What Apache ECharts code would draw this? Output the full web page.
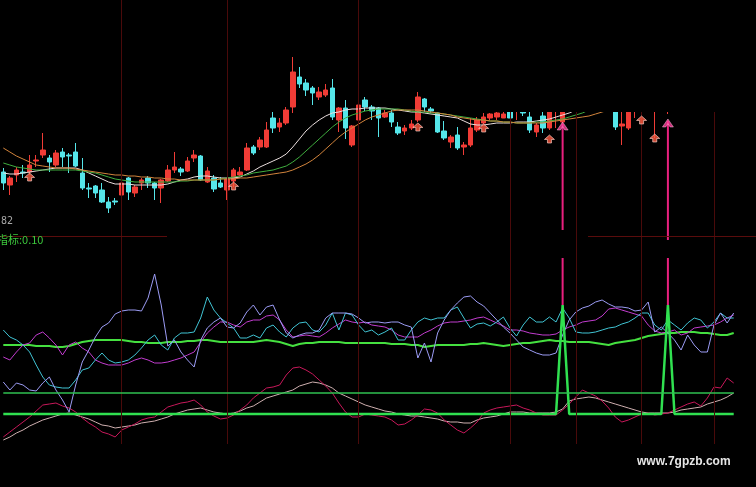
<!DOCTYPE html>
<html><head><meta charset="utf-8">
<script src="https://cdn.jsdelivr.net/npm/echarts/dist/echarts.min.js"></script>
<style>html,body{margin:0;padding:0;background:#000;}#c{width:756px;height:487px;}</style>
</head><body><div id="c"></div><script>
const categories = Array.from({length: 112}, (_, i) => 'D' + (i + 1));
// candles: [open, close, low, high]
const candles = [
[12.8,11.7,11.0,13.2],[11.5,12.2,10.5,12.4],[12.5,13.0,11.8,13.3],[12.8,12.7,12.2,13.5],[12.8,13.5,12.5,14.5],
[13.9,14.0,13.3,14.5],[14.5,15.0,14.2,16.7],[14.2,13.8,12.8,14.5],[13.5,14.7,13.3,15.0],[14.8,14.3,13.3,15.2],
[14.5,14.4,12.7,14.7],[14.8,13.4,13.3,15.7],[12.7,11.2,11.0,14.2],[11.2,11.1,10.2,11.7],[11.4,10.7,10.2,11.5],
[11.0,9.8,9.7,11.7],[9.8,9.2,8.7,10.3],[9.9,9.8,9.5,10.2],[10.5,11.7,10.3,11.8],[12.2,10.8,10.0,12.3],
[10.7,11.3,10.3,11.5],[11.7,12.0,11.0,12.2],[12.2,11.7,11.2,12.4],[11.7,11.2,10.0,11.8],[11.2,12.0,9.7,12.1],
[11.9,13.0,11.8,13.5],[13.0,13.3,12.7,14.8],[13.1,12.8,12.4,13.3],[12.9,13.9,12.8,14.3],[14.2,14.5,13.8,15.0],
[14.4,12.0,11.9,14.5],[11.8,12.9,11.7,13.3],[12.2,11.1,10.8,12.5],[11.7,11.3,11.2,12.3],[11.0,12.1,10.0,12.2],
[11.9,13.0,11.3,13.2],[12.5,12.8,12.4,13.3],[13.0,15.2,12.9,15.7],[15.3,14.7,14.5,15.5],[15.3,16.0,15.0,16.3],
[15.3,17.0,15.2,17.8],[18.2,17.2,16.7,18.8],[17.3,17.7,16.8,18.2],[17.7,19.0,17.5,19.3],[19.3,22.8,18.7,24.3],
[22.3,21.6,21.2,23.3],[21.7,21.0,20.4,22.1],[21.2,20.7,19.5,21.4],[20.3,20.8,20.0,21.3],[20.5,21.0,20.3,21.6],
[21.2,18.3,18.0,22.1],[18.0,19.2,16.8,19.3],[19.2,17.2,16.1,20.0],[15.5,17.4,15.3,17.5],[18.0,19.5,17.0,20.5],
[20.0,19.3,18.9,20.3],[19.3,18.9,18.0,19.5],[19.2,18.2,16.3,19.3],[18.3,18.7,18.2,19.0],[18.7,17.8,17.3,19.0],
[17.3,16.7,16.5,17.8],[16.9,17.2,16.5,17.5],[17.2,17.6,17.0,18.0],[18.0,20.3,17.8,20.8],[20.1,19.3,18.8,20.2],
[19.1,18.9,18.7,19.3],[18.7,16.8,16.7,18.75],[16.9,16.2,16.0,17.9],[15.8,16.3,15.2,16.5],[16.5,15.2,15.0,17.3],
[15.3,15.5,14.5,15.8],[15.5,17.2,15.3,18.2],[17.0,18.0,16.8,18.3],[17.7,18.3,17.6,18.7],[18.2,18.6,18.0,18.7],
[18.3,18.7,18.0,19.0],[18.2,18.6,18.2,19.2],[19.0,18.2,18.2,19.2],[19.0,19.6,18.0,19.8],[19.2,18.7,18.4,19.5],
[18.3,17.0,16.7,19.2],[16.8,17.5,16.3,17.7],[18.4,17.2,16.7,19.2],[17.2,19.0,17.0,19.4],[19.0,19.5,17.2,19.7],
[17.8,19.2,17.6,19.6],[19.3,20.0,19.0,20.3],[20.0,20.8,19.8,21.0],[20.8,20.4,20.1,21.2],[20.4,21.0,20.2,21.3],
[21.0,20.6,20.3,21.4],[20.6,20.2,19.9,20.9],[20.2,19.8,19.4,20.4],[19.6,17.3,17.0,19.9],[17.4,17.6,15.5,19.2],
[17.2,20.0,17.0,20.5],[19.0,19.5,18.2,20.0],[19.0,19.4,18.5,19.7],[19.5,20.0,19.2,20.2],[19.4,20.0,16.2,20.2],
[20.0,20.6,19.5,20.8],[19.1,19.4,18.6,19.6],[20.0,20.5,19.6,20.8],[20.5,21.0,20.2,21.3],[21.0,20.7,20.4,21.4],
[20.7,21.2,20.3,21.5],[21.2,21.8,20.9,22.0],[21.8,21.5,21.2,22.1],[21.5,22.0,21.3,22.4],[22.0,22.6,21.8,22.9],
[22.6,22.3,22.0,23.0],[22.3,22.9,22.1,23.2]
];
const maWhite = [12.7,12.6,12.6,12.7,12.8,12.9,13.0,13.1,13.2,13.2,13.2,13.2,13.0,12.7,12.4,12.1,11.8,11.6,11.6,11.6,11.5,11.5,11.5,11.5,11.5,11.6,11.8,12.0,12.1,12.3,12.4,12.4,12.3,12.2,12.2,12.2,12.3,12.6,12.9,13.3,13.6,13.9,14.2,14.6,15.3,16.1,16.9,17.5,18.0,18.4,18.7,18.8,19.0,19.1,19.1,19.2,19.2,19.2,19.2,19.1,19.0,18.9,18.8,18.8,18.7,18.6,18.5,18.4,18.3,18.2,17.9,17.6,17.5,17.5,17.6,17.7,17.7,17.7,17.8,17.8,17.8,17.9,18.0,18.1,18.3,18.5,18.7,19.0,19.3,19.6,19.9,20.1,20.3,20.4,20.5,20.5,20.6,20.6,20.7,20.7,20.8,20.8,20.9,21.0,21.1,21.2,21.3,21.4,21.6,21.8,22.0,22.2];
const maGreen = [13.7,13.5,13.3,13.2,13.1,13.0,13.0,13.0,13.0,13.0,13.0,13.0,12.9,12.8,12.7,12.5,12.3,12.1,12.0,11.9,11.8,11.8,11.8,11.8,11.8,11.8,11.8,11.9,11.9,12.0,12.0,12.0,12.0,12.1,12.2,12.3,12.4,12.5,12.7,12.8,12.9,13.0,13.2,13.4,13.8,14.3,14.9,15.5,16.1,16.7,17.3,17.8,18.2,18.5,18.7,18.9,19.0,19.1,19.1,19.1,19.1,19.0,18.9,18.8,18.8,18.7,18.7,18.6,18.5,18.4,18.3,18.2,18.1,18.0,17.9,17.9,17.8,17.8,17.7,17.7,17.7,17.8,17.8,17.9,18.0,18.1,18.3,18.5,18.7,19.0,19.3,19.5,19.7,19.9,20.0,20.1,20.2,20.3,20.4,20.4,20.5,20.5,20.6,20.7,20.8,20.9,21.0,21.1,21.2,21.3,21.4,21.5];
const maOrange = [15.2,14.8,14.4,14.1,13.8,13.5,13.4,13.3,13.2,13.2,13.2,13.1,13.0,12.9,12.8,12.7,12.6,12.5,12.5,12.4,12.4,12.3,12.3,12.2,12.2,12.1,12.1,12.0,12.0,12.0,12.0,12.0,12.0,12.1,12.1,12.1,12.2,12.2,12.3,12.4,12.5,12.6,12.7,12.8,13.0,13.3,13.6,14.0,14.5,15.1,15.7,16.3,16.8,17.2,17.6,18.0,18.3,18.5,18.7,18.9,19.0,19.0,19.0,19.0,18.9,18.8,18.7,18.6,18.5,18.3,18.2,18.1,18.0,18.0,17.9,17.9,17.8,17.8,17.7,17.7,17.7,17.7,17.7,17.8,17.9,18.0,18.1,18.2,18.3,18.4,18.6,18.8,19.0,19.2,19.4,19.6,19.7,19.8,19.9,20.0,20.1,20.2,20.3,20.4,20.5,20.6,20.7,20.8,20.9,21.0,21.1,21.2];
// buy markers: [index, price]
const buyMarks = [[4,12.3],[35,11.4],[63,17.3],[73,17.2],[83,16.1],[97,18.0],[99,16.2]];
const signalTop1 = [[85,7.0],[85,17.6]];
const signalTop2 = [[101,6.0],[101,17.9]];
const signalHeads = [[85,17.6],[101,17.9]];
const signalLow1 = [[85,109],[85,156]];
const signalLow2 = [[101,109],[101,156]];
const monthLines = [18,34,54,77,87,97,108];
// indicator panel
const lavender = [32,24,31,29,24,23,31,37,24,14,2,29,52,64,77,87,91,100,103,104,104,103,116,140,109,68,74,62,54,47,74,86,92,96,87,86,91,102,109,99,107,109,94,81,76,79,81,81,84,96,101,101,101,100,96,91,92,92,91,92,92,89,87,56,71,52,81,94,104,111,117,118,112,108,101,94,87,81,74,67,64,61,59,59,61,79,94,102,106,108,112,114,110,107,107,106,103,104,112,82,87,81,74,64,79,69,62,62,89,101,91,101];
const cyanLine = [84,77,74,69,62,49,37,29,27,26,26,34,44,46,54,61,54,51,52,54,59,66,74,79,69,64,76,81,81,82,96,117,104,96,91,86,76,76,79,76,86,89,82,77,86,91,92,84,82,89,101,84,101,99,89,82,84,79,82,86,74,74,84,92,96,94,96,96,104,107,96,86,90,91,88,92,97,86,78,89,97,92,92,97,92,106,96,82,81,81,82,84,86,87,90,92,96,101,101,89,84,94,89,84,91,96,94,86,92,101,96,96];
const magentaLine = [57,54,62,69,71,79,82,76,69,59,69,72,66,62,54,51,49,49,49,51,54,56,54,51,51,52,54,56,59,62,72,81,87,92,92,89,87,92,94,94,98,99,94,84,77,78,79,78,77,81,86,90,94,92,91,92,89,88,87,84,79,77,77,77,81,84,88,91,92,92,93,94,96,97,94,91,88,84,84,83,81,80,79,79,80,84,87,89,92,93,94,98,105,106,104,102,100,98,89,83,81,82,84,79,81,86,87,88,89,92,96,99];
const greenThick = [69,69,69,69,69,68,68,68,67,67,68,70,72,73,74,74,74,74,74,73,72,72,71,71,71,72,72,72,73,73,74,74,73,72,72,72,72,72,72,73,74,73,72,70,68,70,71,71,72,72,72,72,71,71,71,71,71,71,71,70,70,70,69,69,67,68,69,69,69,69,69,70,70,71,70,69,68,69,70,71,71,72,73,74,73,73,72,72,72,72,71,70,69,71,72,73,74,76,78,79,80,81,81,82,82,82,81,81,80,79,79,81];
const crimson = [-23,-18,-13,-8,-3,3,9,10,11,8,6,2,-4,-9,-13,-18,-20,-23,-16,-13,-10,-6,-4,-3,2,7,9,11,12,14,9,2,-2,-5,-4,-1,4,9,16,21,26,27,29,39,46,47,44,40,34,28,21,11,2,-3,-3,0,-1,-2,-3,-6,-11,-10,-6,-1,5,4,1,-6,-11,-16,-19,-14,-8,1,4,6,7,8,9,6,4,1,-1,-1,-1,4,10,17,24,21,18,13,6,-3,-8,-6,-3,0,1,-1,0,1,4,7,10,12,8,16,27,26,36,31];
const pale = [-26,-23,-19,-16,-12,-9,-6,-4,-2,0,1,-1,-3,-5,-8,-11,-12,-14,-13,-12,-11,-9,-8,-7,-5,-3,0,2,4,5,6,4,2,1,0,1,3,6,8,12,16,18,20,22,24,28,30,32,31,29,26,21,18,15,12,9,7,5,3,2,0,-1,-2,-2,-3,-4,-5,-7,-8,-8,-9,-9,-6,-4,-3,-2,0,2,2,2,1,1,1,1,2,5,13,15,16,17,16,14,12,10,8,6,4,2,1,1,1,1,2,4,5,6,7,10,12,14,17,21];
const spike = [0,0,0,0,0,0,0,0,0,0,0,0,0,0,0,0,0,0,0,0,0,0,0,0,0,0,0,0,0,0,0,0,0,0,0,0,0,0,0,0,0,0,0,0,0,0,0,0,0,0,0,0,0,0,0,0,0,0,0,0,0,0,0,0,0,0,0,0,0,0,0,0,0,0,0,0,0,0,0,0,0,0,0,0,0,109,0,0,0,0,0,0,0,0,0,0,0,0,0,0,0,109,0,0,0,0,0,0,0,0,0,0];
const levelValue = 21;

const gridLine = '#4a0a0a';
const vMark = {
  silent: true, symbol: ['none','none'], label: {show: false},
  lineStyle: {color: gridLine, width: 1, type: 'solid'},
  data: monthLines.map(i => ({xAxis: categories[i]}))
};
function line(name, data, color, width, xi) {
  return {name, type: 'line', data, xAxisIndex: xi, yAxisIndex: xi, symbol: 'none',
    lineStyle: {color, width}, itemStyle: {color}, animation: false, z: 3};
}
const chart = echarts.init(document.getElementById('c'));
chart.setOption({
  backgroundColor: '#000',
  animation: false,
  grid: [
    {left: -3, width: 740, top: 0, height: 240},
    {left: -3, width: 740, top: 240, height: 204}
  ],
  xAxis: [
    {type: 'category', data: categories, gridIndex: 0, show: false, boundaryGap: true},
    {type: 'category', data: categories, gridIndex: 1, show: false, boundaryGap: true}
  ],
  yAxis: [
    {type: 'value', gridIndex: 0, min: 6, max: 30, show: false},
    {type: 'value', gridIndex: 1, min: -30, max: 174, show: false}
  ],
  series: [
    {type: 'candlestick', data: candles, xAxisIndex: 0, yAxisIndex: 0, barWidth: 5,
      itemStyle: {color: '#f03c36', color0: '#55e6ea', borderColor: '#f03c36', borderColor0: '#55e6ea', borderWidth: 1},
      markLine: vMark, z: 2},
    line('ma1', maWhite, '#eadede', 1, 0),
    line('ma2', maGreen, '#3fae3f', 1, 0),
    line('ma3', maOrange, '#d2843c', 1, 0),
    {type: 'scatter', data: buyMarks, xAxisIndex: 0, yAxisIndex: 0,
      symbol: 'path://M5 0 L10 5 L7 5 L7 9 L3 9 L3 5 L0 5 Z', symbolSize: [10, 8],
      itemStyle: {color: '#ff5a40', borderColor: '#ffd2c8', borderWidth: 0.8}, z: 6},
    {type: 'line', data: signalTop1, xAxisIndex: 0, yAxisIndex: 0, symbol: 'none',
      lineStyle: {color: '#e8207e', width: 2}, z: 5},
    {type: 'line', data: signalTop2, xAxisIndex: 0, yAxisIndex: 0, symbol: 'none',
      lineStyle: {color: '#e8207e', width: 2}, z: 5},
    {type: 'scatter', data: signalHeads, xAxisIndex: 0, yAxisIndex: 0,
      symbol: 'path://M5 0 L10 6 L7 6 L5 3.5 L3 6 L0 6 Z', symbolSize: [11, 8], symbolOffset: [0, 2],
      itemStyle: {color: '#ff3d9a', borderColor: '#ffc0e0', borderWidth: 0.6}, z: 7},
    // indicator panel
    {type: 'line', data: spike, xAxisIndex: 1, yAxisIndex: 1, symbol: 'none',
      lineStyle: {color: '#30e050', width: 2.5}, z: 4,
      markLine: {
        silent: true, symbol: ['none','none'], label: {show: false},
        data: [
          ...monthLines.map(i => ({xAxis: categories[i], lineStyle: {color: gridLine, width: 1, type: 'solid'}})),
          [{coord: [categories[0], levelValue]}, {coord: [categories[111], levelValue], lineStyle: {color: '#2fc050', width: 1.5, type: 'solid'}}]
        ],
        lineStyle: {type: 'solid'}
      }},
    line('pale', pale, '#cfb0b0', 1, 1),
    line('crimson', crimson, '#c8185a', 1, 1),
    line('green', greenThick, '#45e040', 2, 1),
    line('magenta', magentaLine, '#c23ccf', 1, 1),
    line('cyan', cyanLine, '#40c4d4', 1, 1),
    line('lavender', lavender, '#9c9cf5', 1, 1),
    {type: 'line', data: signalLow1, xAxisIndex: 1, yAxisIndex: 1, symbol: 'none',
      lineStyle: {color: '#e8207e', width: 2}, z: 5},
    {type: 'line', data: signalLow2, xAxisIndex: 1, yAxisIndex: 1, symbol: 'none',
      lineStyle: {color: '#e8207e', width: 2}, z: 5}
  ],
  graphic: [
    {type: 'rect', left: 479, top: 0, shape: {width: 277, height: 112}, style: {fill: '#000'}, z: 100, silent: true},
    {type: 'line', shape: {x1: 0, y1: 236.5, x2: 167, y2: 236.5}, style: {stroke: '#5a0c0c', lineWidth: 1}, z: 50},
    {type: 'line', shape: {x1: 588, y1: 236.5, x2: 756, y2: 236.5}, style: {stroke: '#5a0c0c', lineWidth: 1}, z: 50},
    {type: 'text', left: 1, top: 216, style: {text: '82', fill: '#a8a8a8', font: '10px "DejaVu Sans Mono", monospace'}, z: 60},
    {type: 'text', left: -3, top: 234, style: {text: '指标:0.10', fill: '#3cc83c', font: '11px "Noto Sans CJK SC", sans-serif'}, z: 60},
    {type: 'text', left: 637, top: 456, style: {text: 'www.7gpzb.com', fill: '#e6e6e6', font: 'bold 12px "Liberation Sans", Arial, sans-serif'}, z: 60}
  ]
});
</script></body></html>
